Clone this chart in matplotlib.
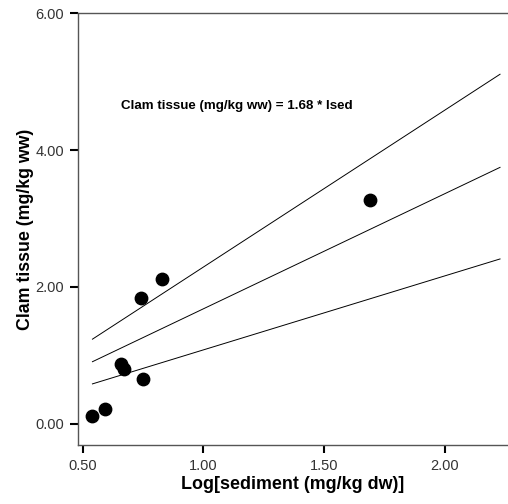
import numpy as np
import matplotlib
matplotlib.use("Agg")
from matplotlib import pyplot as plt

plt.rcParams['font.family'] = ['Liberation Sans', 'DejaVu Sans']

# log sediment vs clam tissue concentrations
lsed = [0.54, 0.59, 0.66, 0.67, 0.75, 0.74, 0.83, 1.69]
tissue = [0.12, 0.22, 0.87, 0.80, 0.65, 1.84, 2.11, 3.27]

# regression through the origin and its confidence band slopes
slope = 1.68
slope_lo = 1.08
slope_hi = 2.29
line_end = 2.23

xticks = [0.5, 1.0, 1.5, 2.0]
yticks = [0.0, 2.0, 4.0, 6.0]

fig = plt.figure(figsize=(5.08, 5.04), dpi=100)
ax = fig.add_axes([0.1535, 0.117, 0.846, 0.857])

xs = np.array([min(lsed), line_end])
for b in (slope_hi, slope, slope_lo):
    ax.plot(xs, b * xs, color='black', lw=0.7)

ax.scatter(lsed, tissue, s=80, color='black', zorder=3)

ax.text(0.66, 4.65, 'Clam tissue (mg/kg ww) = %.2f * lsed' % slope,
        fontsize=9.6, fontweight='bold', ha='left', va='center')

ax.set_xlim(0.48, 2.262)
ax.set_ylim(-0.31, 6.0)
ax.set_xticks(xticks)
ax.set_yticks(yticks)
ax.set_xticklabels(['%.2f' % t for t in xticks])
ax.set_yticklabels(['%.2f' % t for t in yticks])
ax.tick_params(direction='out', length=6, width=1.5, labelsize=10.5,
               colors='black', labelcolor='#333333', pad=4)

for side in ('left', 'bottom', 'top'):
    ax.spines[side].set_color('#555555')
    ax.spines[side].set_linewidth(1.0)
ax.spines['right'].set_visible(False)

ax.set_xlabel('Log[sediment (mg/kg dw)]', fontsize=12.9, fontweight='bold', labelpad=2)
ax.set_ylabel('Clam tissue (mg/kg ww)', fontsize=12.8, fontweight='bold', labelpad=1)

fig.savefig('out.png', dpi=100)
